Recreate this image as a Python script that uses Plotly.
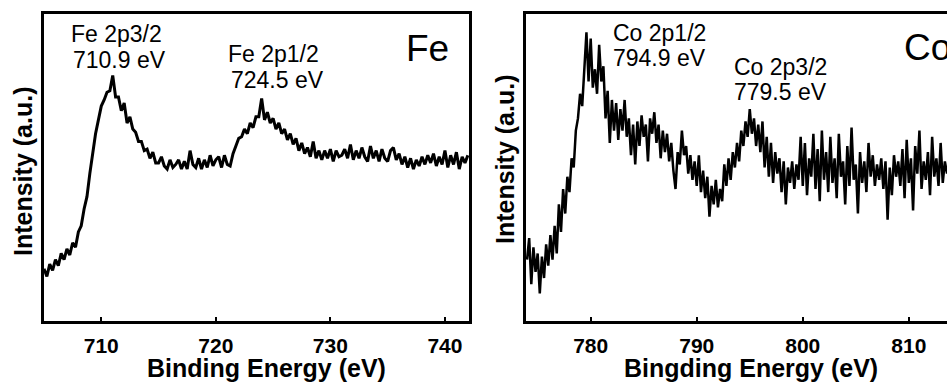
import plotly.graph_objects as go

W, H = 947, 383

# ---------------- data ----------------
fe_start, fe_step = 705.0, 0.25
fe_intensity = [
    17, 14.5, 18.5, 16.5, 20, 18, 22, 20, 23.5, 21.5,
    25.5, 24, 29, 31, 36.5, 40.5, 48, 54.5, 61, 65.5,
    70, 72, 74.5, 75, 80, 73, 73, 68.5, 71, 64.5,
    66.5, 62.5, 61.5, 58.5, 58.5, 55.5, 56, 53, 55, 51.5,
    51.5, 53.5, 50.5, 49.5, 52.5, 50, 51, 52.5, 49.5, 52,
    49.5, 55.5, 51, 50, 53, 49.5, 52.5, 50, 54, 50.5,
    52.5, 53.5, 50, 54, 51, 50.5, 54.5, 57, 59.5, 60,
    62.5, 61, 64.5, 63, 66.5, 66.5, 72.5, 65.5, 68, 64.5,
    66, 62.5, 64.5, 61, 62.5, 59, 61, 57.5, 59.5, 55.5,
    58, 54.5, 56.5, 53.5, 58.5, 53, 55.5, 52.5, 55.5, 53,
    56, 52, 55.5, 53.5, 54, 56, 53, 57.5, 52.5, 55.5,
    53, 56.5, 53.5, 52, 57, 53, 55.5, 52, 56, 53,
    52, 55.5, 56.5, 52.5, 54.5, 51, 53.5, 50, 53, 49.5,
    52.5, 50.5, 53.5, 51, 54, 51.5, 54.5, 50.5, 53.5, 51,
    55.5, 50, 54, 51, 55, 49.5, 53.5, 51.5, 54,
]
fe_energy = [round(fe_start + fe_step * i, 2) for i in range(len(fe_intensity))]

co_start, co_step = 774.0, 0.2
co_intensity = [
    20, 27, 12, 24, 16, 22, 9, 21, 14, 25,
    18, 28, 20, 31, 22, 38, 29, 43, 35, 47,
    42, 53, 50, 62, 66, 74, 70, 84, 94, 78,
    92, 76, 82, 74, 90, 78, 83, 66, 75, 58,
    72, 62, 71, 59, 69, 62, 72, 60, 66, 54,
    64, 51, 65, 57, 67, 60, 64, 52, 66, 61,
    68, 58, 64, 53, 62, 55, 61, 52, 58, 49,
    43, 55, 51, 62, 54, 57, 48, 54, 46, 52,
    44, 54, 42, 49, 40, 47, 34, 44, 38, 46,
    37, 43, 39, 51, 44, 53, 46, 55, 50, 58,
    52, 62, 57, 65, 60, 69, 61, 66, 57, 64,
    55, 65, 50, 60, 47, 58, 45, 55, 48, 53,
    42, 52, 38, 50, 45, 52, 43, 51, 46, 60,
    44, 58, 41, 53, 47, 61, 43, 56, 39, 62,
    46, 55, 42, 60, 45, 53, 40, 61, 47, 52,
    38, 57, 44, 63, 46, 51, 35, 55, 45, 52,
    42, 58, 47, 54, 44, 51, 46, 53, 43, 52,
    33, 50, 41, 54, 47, 52, 44, 56, 40, 59,
    45, 53, 36, 57, 48, 62, 43, 52, 46, 55,
    41, 60, 47, 53, 44, 58, 45, 52, 48,
]
co_energy = [round(co_start + co_step * i, 2) for i in range(len(co_intensity))]

fe_ticks = [710, 720, 730, 740]
co_ticks = [780, 790, 800, 810]
fe_range = [705.0, 742.1]
co_range = [773.9, 813.6]

# ---------------- figure ----------------
FONT = "Liberation Sans, Arial, sans-serif"

fig = go.Figure()
fig.add_trace(go.Scatter(x=fe_energy, y=fe_intensity, mode="lines",
                         line=dict(color="black", width=3), xaxis="x", yaxis="y",
                         showlegend=False, hoverinfo="skip"))
fig.add_trace(go.Scatter(x=co_energy, y=co_intensity, mode="lines",
                         line=dict(color="black", width=2.5), xaxis="x2", yaxis="y2",
                         showlegend=False, hoverinfo="skip"))

def px(v):
    return v / W

def py(v):
    return 1 - v / H

ydom = [py(321), py(14)]

xcommon = dict(showline=True, linewidth=3, linecolor="black", ticks="inside",
               ticklen=4, tickwidth=2, tickcolor="black", showgrid=False,
               zeroline=False, tickfont=dict(family=FONT, size=21, color="black", weight="bold"),
               ticklabelstandoff=4)
ycommon = dict(showline=True, linewidth=3, linecolor="black", showticklabels=False,
               ticks="", showgrid=False, zeroline=False, range=[0, 100])

fig.update_layout(
    width=W, height=H,
    margin=dict(l=0, r=0, t=0, b=0),
    paper_bgcolor="white", plot_bgcolor="white",
    xaxis=dict(domain=[px(44), px(469)], range=fe_range, tickvals=fe_ticks,
               mirror=True, anchor="y", **xcommon),
    yaxis=dict(domain=ydom, anchor="x", mirror=True, **ycommon),
    xaxis2=dict(domain=[px(526), 1.0], range=co_range, tickvals=co_ticks,
                mirror=True, anchor="y2", **xcommon),
    yaxis2=dict(domain=ydom, anchor="x2", mirror=False, **ycommon),
)

ann = []

def add_text(text, x, y, size, bold=False, xanchor="center", angle=0):
    ann.append(dict(text=text, x=px(x), y=py(y), xref="paper", yref="paper",
                    xanchor=xanchor, yanchor="middle", showarrow=False, textangle=angle,
                    font=dict(family=FONT, size=size, color="black",
                              weight="bold" if bold else "normal")))

# axis titles
add_text("Binding Energy (eV)", 266, 368, 25, bold=True)
add_text("Bingding Energy (eV)", 751, 368, 25, bold=True)
add_text("Intensity (a.u.)", 23, 172, 25, bold=True, angle=-90)
add_text("Intensity (a.u.)", 505, 159, 25, bold=True, angle=-90)

# peak labels
add_text("Fe 2p3/2", 69, 34, 23, xanchor="left")
add_text("710.9 eV", 71, 60, 23, xanchor="left")
add_text("Fe 2p1/2", 226, 54, 23, xanchor="left")
add_text("724.5 eV", 229, 80, 23, xanchor="left")
add_text("Fe", 427, 49, 37)

add_text("Co 2p1/2", 611, 33, 23, xanchor="left")
add_text("794.9 eV", 611, 58, 23, xanchor="left")
add_text("Co 2p3/2", 732, 67, 23, xanchor="left")
add_text("779.5 eV", 732, 92, 23, xanchor="left")
add_text("Co", 902, 48, 37, xanchor="left")

fig.update_layout(annotations=ann)

fig.write_html("out.html")
